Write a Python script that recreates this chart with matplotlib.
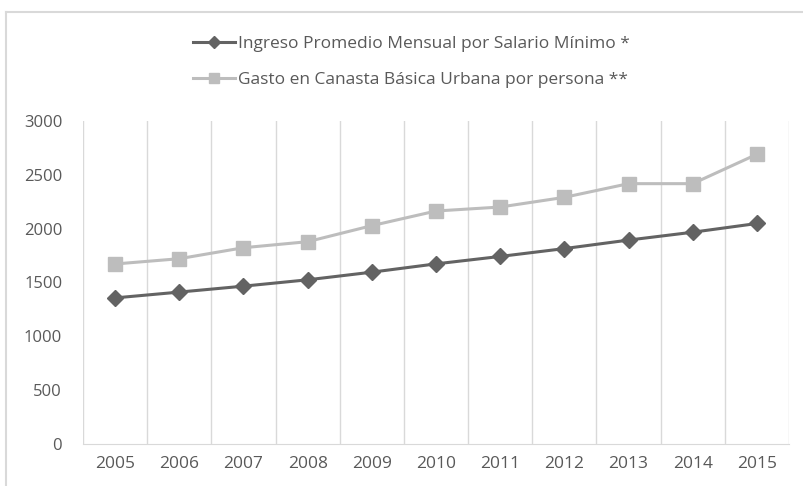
import numpy as np
import matplotlib
matplotlib.use("Agg")
import matplotlib.pyplot as plt
from matplotlib.lines import Line2D

years = ["2005", "2006", "2007", "2008", "2009", "2010", "2011", "2012", "2013", "2014", "2015"]
ingreso = [1357, 1411, 1466, 1525, 1596, 1673, 1742, 1815, 1894, 1967, 2048]
gasto = [1672, 1721, 1823, 1879, 2028, 2164, 2201, 2291, 2418, 2418, 2691]
label_ingreso = "Ingreso Promedio Mensual por Salario Mínimo *"
label_gasto = "Gasto en Canasta Básica Urbana por persona **"
yticks = [0, 500, 1000, 1500, 2000, 2500, 3000]

plt.rcParams['font.family'] = ['Open Sans', 'DejaVu Sans']
text_color = '#595959'
grid_color = '#D9D9D9'

fig = plt.figure(figsize=(8.04, 4.86), dpi=100)
ax = fig.add_axes([83/804, 1-444/486, (789-83)/804, (444-121)/486])

x = np.arange(len(years))
ax.plot(x, ingreso, color='#636363', lw=2.2, marker='D', ms=8, label=label_ingreso, zorder=3)
ax.plot(x, gasto, color='#BDBDBD', lw=2.2, marker='s', ms=10, label=label_gasto, zorder=3)

ax.set_xlim(-0.5, len(years) - 0.5)
ax.set_ylim(0, 3000)
ax.set_yticks(yticks)
ax.set_yticklabels([str(v) for v in yticks])
ax.set_xticks(x)
ax.set_xticklabels(years)
ax.set_xticks(np.arange(-0.5, len(years), 1.0), minor=True)
ax.grid(True, which='minor', axis='x', color=grid_color, lw=1)
ax.tick_params(axis='both', which='both', length=0, colors=text_color, labelsize=12)
ax.tick_params(axis='y', pad=15)
ax.tick_params(axis='x', pad=9)
for lab in ax.get_xticklabels():
    lab.set_fontsize(12.5)
for s in ['top', 'right', 'left']:
    ax.spines[s].set_visible(False)
ax.spines['bottom'].set_color(grid_color)

# chart area border (top and left edges visible in the crop)
top_y = 1 - 12/486
left_x = 6/804
fig.add_artist(Line2D([left_x, 1.0], [top_y, top_y], transform=fig.transFigure,
                      color=grid_color, lw=1.5))
fig.add_artist(Line2D([left_x, left_x], [0.0, top_y], transform=fig.transFigure,
                      color=grid_color, lw=1.5))

leg = fig.legend(loc='center', bbox_to_anchor=(0.512, 1 - 62/486), frameon=False,
                 fontsize=12.5, labelcolor=text_color, handlelength=2.4, labelspacing=1.1,
                 handletextpad=0.2, markerscale=0.75)

fig.savefig('out.png', dpi=100)
